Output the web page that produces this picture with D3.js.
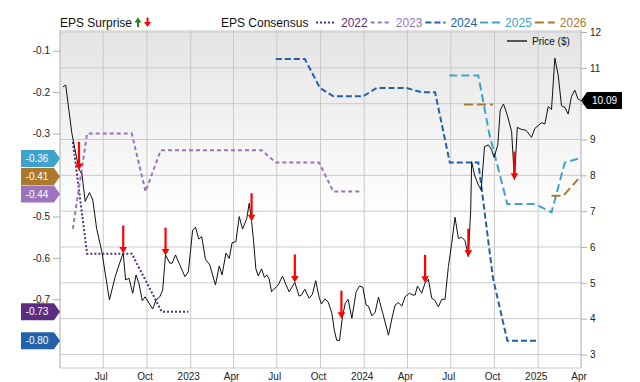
<!DOCTYPE html>
<html>
<head>
<meta charset="utf-8">
<script src="https://cdn.jsdelivr.net/npm/d3@7"></script>
<style>
body { margin: 0; background: #fff; }
svg { display: block; font-family: "Liberation Sans", Arial, sans-serif; }
</style>
</head>
<body>
<div id="chart"></div>
<script>
// price ($), weekly-ish closes
const priceDates = ["2022-04-07","2022-04-13","2022-04-26","2022-05-11","2022-05-17","2022-05-24","2022-06-02","2022-06-09","2022-06-17","2022-06-28","2022-07-14","2022-07-26","2022-08-09","2022-08-12","2022-08-17","2022-08-24","2022-09-01","2022-09-08","2022-09-14","2022-09-21","2022-09-27","2022-10-13","2022-10-20","2022-10-28","2022-11-03","2022-11-09","2022-11-18","2022-11-23","2022-11-30","2022-12-09","2022-12-20","2022-12-27",
  "2023-01-05","2023-01-11","2023-01-18","2023-01-24","2023-02-01","2023-02-10","2023-02-22","2023-03-02","2023-03-08","2023-03-16","2023-03-23","2023-03-29","2023-04-06","2023-04-13","2023-04-20","2023-04-29","2023-05-04","2023-05-09","2023-05-13","2023-05-18","2023-05-23","2023-05-30","2023-06-05","2023-06-10","2023-06-15","2023-06-20","2023-07-04","2023-07-13","2023-07-20","2023-07-27","2023-08-08","2023-08-17","2023-08-22","2023-08-29","2023-09-07","2023-09-14","2023-09-21","2023-09-28","2023-10-03","2023-10-10","2023-10-17","2023-10-25","2023-10-30","2023-11-04","2023-11-10","2023-11-16","2023-11-22","2023-11-28","2023-12-06","2023-12-15","2023-12-22","2023-12-29",
  "2024-01-05","2024-01-10","2024-01-17","2024-01-24","2024-01-31","2024-02-09","2024-02-21","2024-02-29","2024-03-06","2024-03-13","2024-03-20","2024-03-27","2024-04-05","2024-04-12","2024-04-17","2024-04-22","2024-05-01","2024-05-08","2024-05-15","2024-05-22","2024-05-28","2024-06-05","2024-06-12","2024-06-19","2024-06-26","2024-07-03","2024-07-10","2024-07-17","2024-07-24","2024-07-31","2024-08-07","2024-08-12","2024-08-14","2024-08-20","2024-08-28","2024-09-03","2024-09-10","2024-09-18","2024-09-25","2024-09-30","2024-10-08","2024-10-13","2024-10-20","2024-10-28","2024-11-06","2024-11-12","2024-11-18","2024-11-27","2024-12-06","2024-12-18","2024-12-25",
  "2025-01-08","2025-01-15","2025-01-22","2025-01-29","2025-02-05","2025-02-12","2025-02-19","2025-02-26","2025-03-05","2025-03-12","2025-03-19","2025-03-26","2025-03-31"];
const priceValues = [10.47,10.52,9.17,8.15,8.06,7.27,7.52,7.31,6.52,5.87,4.52,5.17,5.73,5.82,5.08,5.13,4.71,5.22,4.99,4.5,4.61,4.27,4.52,4.61,4.8,5.78,5.55,5.55,5.78,5.5,5.17,5.31,
  6.47,6.55,6.22,6.29,5.66,5.5,4.94,5.47,5.22,5.83,5.68,6.12,6.15,6.85,6.5,6.8,7.22,6.72,6.2,5.39,5.19,5.39,5.15,5.22,5.11,4.75,4.94,5.19,4.96,4.75,5.01,4.63,4.66,4.82,4.57,4.68,5.06,4.6,4.41,4.55,4.47,4.15,3.68,3.4,3.39,4.03,4.43,4.54,4.01,4.75,4.91,4.88,
  4.38,4.35,4.08,4.18,4.6,4.15,3.54,4.05,4.38,4.45,4.35,4.61,4.71,4.66,4.66,4.91,4.71,5.0,5.1,4.57,4.52,4.33,4.54,4.54,5.45,6.1,6.83,6.24,6.27,6.18,5.73,7.03,8.38,8.01,7.73,7.59,8.8,8.85,8.71,8.5,8.85,9.82,9.99,9.68,9.22,7.88,9.34,9.28,9.26,9.06,9.31,
  9.47,9.43,9.92,9.84,11.27,10.8,9.94,9.9,9.71,10.2,10.38,10.12,10.09];

// EPS consensus per fiscal year
const eps2022Dates = ["2022-04-28","2022-05-28","2022-08-30","2022-11-01","2022-12-27"];
const eps2022Values = [-0.32,-0.59,-0.59,-0.73,-0.73];
const eps2023Dates = ["2022-04-28","2022-05-28","2022-08-30","2022-09-28","2022-10-30","2023-05-30","2023-06-29","2023-09-28","2023-10-28","2023-12-25"];
const eps2023Values = [-0.53,-0.30,-0.30,-0.44,-0.34,-0.34,-0.37,-0.37,-0.44,-0.44];
const eps2024Dates = ["2023-06-29","2023-08-29","2023-09-30","2023-10-28","2023-12-30","2024-01-27","2024-03-30","2024-04-30","2024-05-29","2024-06-29","2024-08-28","2024-09-28","2024-10-28","2024-12-29"];
const eps2024Values = [-0.12,-0.12,-0.19,-0.21,-0.21,-0.19,-0.19,-0.20,-0.20,-0.37,-0.37,-0.65,-0.80,-0.80];
const eps2025Dates = ["2024-06-28","2024-08-28","2024-09-20","2024-10-28","2024-12-25","2025-01-29","2025-02-26","2025-03-28"];
const eps2025Values = [-0.16,-0.16,-0.30,-0.47,-0.47,-0.49,-0.37,-0.36];
const eps2026Dates = ["2024-07-29","2024-09-28","2024-11-15","2025-01-29","2025-02-23","2025-03-26"];
const eps2026Values = [-0.23,-0.23,null,-0.45,-0.45,-0.41];

const epsYears = ["2022","2023","2024","2025","2026"];

// earnings surprises (all negative -> red down arrows)
const surpriseDates = ["2022-05-11","2022-08-12","2022-11-09","2023-05-09","2023-08-08","2023-11-14","2024-05-08","2024-08-07","2024-11-12"];
const surprisePrices = [8.15,5.82,5.76,6.72,5.01,4.0,5.0,5.73,7.88];

const epsTicks = [-0.1,-0.2,-0.3,-0.4,-0.5,-0.6,-0.7,-0.8];
const priceTicks = [3,4,5,6,7,8,9,10,11,12];
const monthNames = ["Jan","Feb","Mar","Apr","May","Jun","Jul","Aug","Sep","Oct","Nov","Dec"];

const yearStyle = {
  "2022": {color: "#5b2d80", dash: "2,2"},
  "2023": {color: "#9c74bd", dash: "4,3"},
  "2024": {color: "#2162ab", dash: "6,3"},
  "2025": {color: "#3ea2cf", dash: "8,4"},
  "2026": {color: "#ab782d", dash: "9,4"}
};

const parse = d3.timeParse("%Y-%m-%d");
const plotLeft = 60, plotRight = 581, plotTop = 30, plotBottom = 368;

const svg = d3.select("#chart").append("svg").attr("width", 640).attr("height", 382);

const x = d3.scaleTime().domain([new Date(2022, 3, 1), new Date(2025, 3, 1)]).range([plotLeft, plotRight]);
const yEps = d3.scaleLinear().domain([-0.1, -0.7]).range([50.7, 299.3]);
const yPrice = d3.scaleLinear().domain([3, 12]).range([354.5, 32]);

// EPS consensus data + where the last-value badges go
const epsData = {
  "2022": eps2022Dates.map((d, i) => ({date: parse(d), value: eps2022Values[i]})),
  "2023": eps2023Dates.map((d, i) => ({date: parse(d), value: eps2023Values[i]})),
  "2024": eps2024Dates.map((d, i) => ({date: parse(d), value: eps2024Values[i]})),
  "2025": eps2025Dates.map((d, i) => ({date: parse(d), value: eps2025Values[i]})),
  "2026": eps2026Dates.map((d, i) => ({date: parse(d), value: eps2026Values[i]}))
};
const badges = epsYears.map(yr => {
  const pts = epsData[yr].filter(d => d.value !== null);
  const v = pts[pts.length - 1].value;
  return {yr: yr, value: v, y: yEps(v)};
}).sort((a, b) => a.y - b.y);
for (let k = 0; k < 20; k++) {
  for (let i = 1; i < badges.length; i++) {
    const gap = badges[i].y - badges[i - 1].y;
    if (gap < 17.5) {
      const s = (17.5 - gap) / 2;
      badges[i].y += s;
      badges[i - 1].y -= s;
    }
  }
}
const lastPrice = priceValues[priceValues.length - 1];
const py = yPrice(lastPrice);

// background
const grad = svg.append("defs").append("linearGradient")
  .attr("id", "bg").attr("x1", 0).attr("y1", 0).attr("x2", 0).attr("y2", 1);
grad.append("stop").attr("offset", "0%").attr("stop-color", "#e4e4e4");
grad.append("stop").attr("offset", "55%").attr("stop-color", "#ffffff");
grad.append("stop").attr("offset", "100%").attr("stop-color", "#ffffff");
svg.append("rect").attr("x", plotLeft).attr("y", plotTop).attr("width", plotRight - plotLeft).attr("height", plotBottom - plotTop)
  .attr("fill", "url(#bg)");

// grid
const quarterTicks = d3.timeMonth.every(3).range(new Date(2022, 3, 1), new Date(2025, 3, 2));
svg.append("g").selectAll("line").data(quarterTicks).join("line")
  .attr("x1", d => x(d)).attr("x2", d => x(d)).attr("y1", plotTop).attr("y2", plotBottom)
  .attr("stroke", "#cacaca").attr("stroke-width", 1);
svg.append("g").selectAll("line").data(priceTicks).join("line")
  .attr("x1", plotLeft).attr("x2", plotRight).attr("y1", d => yPrice(d)).attr("y2", d => yPrice(d))
  .attr("stroke", "#cacaca").attr("stroke-width", 1);
svg.append("line").attr("x1", plotLeft).attr("x2", plotRight).attr("y1", plotBottom).attr("y2", plotBottom)
  .attr("stroke", "#cacaca");

// x labels
svg.append("g").selectAll("text").data(quarterTicks.slice(1)).join("text")
  .attr("x", d => x(d) - 2).attr("y", 380)
  .attr("text-anchor", "middle").attr("font-size", 10).attr("fill", "#222")
  .text(d => d.getMonth() === 0 ? d.getFullYear() : monthNames[d.getMonth()]);

// left axis (labels hidden where a badge sits on them)
svg.append("line").attr("x1", plotLeft).attr("x2", plotLeft).attr("y1", plotTop).attr("y2", plotBottom).attr("stroke", "#c4c4c4");
const leftAxis = svg.append("g").attr("transform", "translate(" + plotLeft + ",0)")
  .call(d3.axisLeft(yEps).tickValues(epsTicks).tickSize(7).tickPadding(3)
    .tickFormat(d => badges.some(b => Math.abs(b.y - yEps(d)) < 12) ? "" : d.toFixed(1)));
leftAxis.select(".domain").remove();
leftAxis.selectAll("line").attr("stroke", "#b0b0b0");
leftAxis.selectAll("text").attr("font-size", 10).attr("fill", "#222").attr("font-family", "Liberation Sans, Arial, sans-serif");

// right axis
svg.append("line").attr("x1", plotRight).attr("x2", plotRight).attr("y1", plotTop).attr("y2", plotBottom).attr("stroke", "#c4c4c4");
const rightAxis = svg.append("g").attr("transform", "translate(" + plotRight + ",0)")
  .call(d3.axisRight(yPrice).tickValues(priceTicks).tickSize(6).tickPadding(3)
    .tickFormat(d => Math.abs(yPrice(d) - py) < 12 ? "" : d));
rightAxis.select(".domain").remove();
rightAxis.selectAll("line").attr("stroke", "#b0b0b0");
rightAxis.selectAll("text").attr("font-size", 10).attr("fill", "#222").attr("font-family", "Liberation Sans, Arial, sans-serif");

// EPS consensus lines
const epsLine = d3.line().defined(d => d.value !== null).x(d => x(d.date)).y(d => yEps(d.value));
epsYears.forEach(yr => {
  svg.append("path").datum(epsData[yr])
    .attr("d", epsLine).attr("fill", "none")
    .attr("stroke", yearStyle[yr].color).attr("stroke-width", 2)
    .attr("stroke-dasharray", yearStyle[yr].dash);
});

// price line
const price = priceDates.map((d, i) => ({date: parse(d), value: priceValues[i]}));
svg.append("path").datum(price)
  .attr("d", d3.line().x(d => x(d.date)).y(d => yPrice(d.value)))
  .attr("fill", "none").attr("stroke", "#111").attr("stroke-width", 1);

// surprise arrows
surpriseDates.forEach((d, i) => {
  const ax = x(parse(d));
  const ay = yPrice(surprisePrices[i]);
  svg.append("line").attr("x1", ax).attr("x2", ax).attr("y1", ay - 28).attr("y2", ay - 5)
    .attr("stroke", "#ff0000").attr("stroke-width", 2.2);
  svg.append("path")
    .attr("d", "M" + (ax - 3.8) + "," + (ay - 6.5) + "L" + (ax + 3.8) + "," + (ay - 6.5) + "L" + ax + "," + ay + "Z")
    .attr("fill", "#ff0000");
});

// price legend inside plot
svg.append("line").attr("x1", 507).attr("x2", 527).attr("y1", 41).attr("y2", 41)
  .attr("stroke", "#555").attr("stroke-width", 2);
svg.append("text").attr("x", 532).attr("y", 44.5).attr("font-size", 10).attr("fill", "#111").text("Price ($)");

// top legend
svg.append("text").attr("x", 60).attr("y", 27).attr("font-size", 12).attr("fill", "#111").text("EPS Surprise");
svg.append("rect").attr("x", 137).attr("y", 21).attr("width", 2).attr("height", 6).attr("fill", "#1a8a1a");
svg.append("path").attr("d", "M134.5,22.5L141.5,22.5L138,17.5Z").attr("fill", "#1a8a1a");
svg.append("rect").attr("x", 146.5).attr("y", 17.5).attr("width", 2).attr("height", 5.5).attr("fill", "#ff0000");
svg.append("path").attr("d", "M144,22L151,22L147.5,27Z").attr("fill", "#ff0000");
svg.append("text").attr("x", 221).attr("y", 27).attr("font-size", 12).attr("fill", "#111").text("EPS Consensus");

let lx = 316;
epsYears.forEach(yr => {
  svg.append("line").attr("x1", lx).attr("x2", lx + 20).attr("y1", 22.5).attr("y2", 22.5)
    .attr("stroke", yearStyle[yr].color).attr("stroke-width", 2).attr("stroke-dasharray", yearStyle[yr].dash);
  const t = svg.append("text").attr("x", lx + 25).attr("y", 27).attr("font-size", 12)
    .attr("fill", yearStyle[yr].color).text(yr);
  lx += 25 + t.node().getComputedTextLength() + 3;
});

// last-value badges on the left
badges.forEach(b => {
  svg.append("path")
    .attr("d", "M21," + (b.y - 8.5) + "L54," + (b.y - 8.5) + "L60," + b.y + "L54," + (b.y + 8.5) + "L21," + (b.y + 8.5) + "Z")
    .attr("fill", yearStyle[b.yr].color);
  svg.append("text").attr("x", 37).attr("y", b.y + 3.6).attr("text-anchor", "middle")
    .attr("font-size", 10).attr("fill", "#fff").text(b.value.toFixed(2));
});

// last price badge on the right
svg.append("path")
  .attr("d", "M" + plotRight + "," + py + "L587," + (py - 8.5) + "L622," + (py - 8.5) + "L622," + (py + 8.5) + "L587," + (py + 8.5) + "Z")
  .attr("fill", "#000");
svg.append("text").attr("x", 604.5).attr("y", py + 3.6).attr("text-anchor", "middle")
  .attr("font-size", 10).attr("fill", "#fff").text(lastPrice.toFixed(2));
</script>
</body>
</html>
